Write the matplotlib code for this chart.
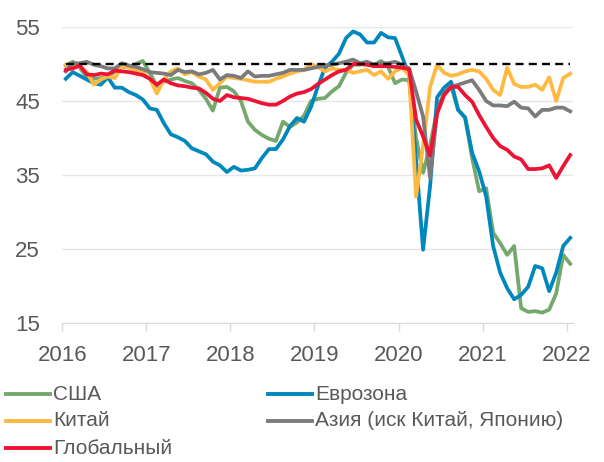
import numpy as np
import matplotlib
matplotlib.use("Agg")
import matplotlib.pyplot as plt
from matplotlib.lines import Line2D
from matplotlib import font_manager

plt.rcParams['font.family'] = ['Liberation Sans', 'DejaVu Sans']

# monthly values, Jan 2016 .. Jan 2022
usa = [49.8, 50.3, 49.5, 48.2, 48.0, 48.1, 48.2, 49.0, 49.6, 49.6,
       50.0, 50.4, 48.8, 47.0, 47.6, 47.9, 48.1, 47.7, 47.4, 46.5,
       45.3, 43.7, 46.8, 46.9, 46.3, 45.0, 42.2, 41.1, 40.4, 39.9,
       39.6, 42.2, 41.5, 42.1, 43.0, 45.0, 45.3, 45.4, 46.3, 47.0,
       48.8, 49.9, 49.9, 50.1, 49.9, 50.4, 49.6, 47.4, 47.9, 47.8,
       40.0, 35.3, 39.0, 43.8, 46.1, 47.0, 43.8, 42.7, 37.3, 32.8,
       33.2, 27.2, 25.8, 24.2, 25.4, 17.0, 16.5, 16.6, 16.4, 16.8,
       19.0, 24.2, 23.0]
eurozone = [48.0, 48.9, 48.4, 47.9, 47.4, 47.2, 48.2, 46.8, 46.8, 46.2,
            45.8, 45.2, 44.0, 43.8, 42.0, 40.5, 40.1, 39.6, 38.6, 38.2,
            37.8, 36.8, 36.3, 35.4, 36.1, 35.6, 35.7, 35.9, 37.3, 38.5,
            38.5, 39.8, 41.6, 42.7, 42.2, 44.2, 47.0, 49.5, 50.3, 51.4,
            53.5, 54.4, 54.0, 52.9, 52.9, 54.2, 53.6, 53.5, 51.0, 48.5,
            37.0, 24.9, 33.5, 45.5, 46.8, 47.6, 43.8, 42.8, 38.0, 35.5,
            32.1, 25.4, 21.8, 19.7, 18.2, 18.8, 19.9, 22.7, 22.4, 19.3,
            21.8, 25.4, 26.5]
china = [49.9, 49.5, 49.7, 48.9, 47.2, 47.9, 48.3, 48.1, 49.7, 49.5,
         49.1, 48.8, 48.0, 46.0, 47.9, 49.0, 49.4, 48.6, 48.9, 48.3,
         47.9, 46.5, 47.4, 48.3, 48.1, 48.0, 47.8, 47.6, 47.6, 47.6,
         48.0, 48.3, 48.7, 49.0, 49.2, 50.0, 49.6, 49.0, 49.4, 49.2,
         49.2, 48.8, 49.0, 49.2, 48.5, 49.0, 48.0, 49.0, 49.5, 48.5,
         32.1, 39.0, 46.9, 49.9, 48.8, 48.4, 48.6, 49.0, 49.2, 49.0,
         48.0, 46.5, 45.8, 49.5, 47.3, 46.9, 46.9, 47.2, 46.5, 48.2,
         45.0, 48.1, 48.7]
asia = [49.0, 50.1, 50.1, 50.3, 49.9, 49.7, 49.4, 49.4, 50.1, 49.8,
        49.6, 49.3, 48.9, 48.8, 48.7, 48.5, 49.2, 48.9, 49.0, 48.6,
        48.8, 49.2, 47.9, 48.5, 48.4, 48.1, 49.0, 48.3, 48.4, 48.4,
        48.6, 48.8, 49.2, 49.2, 49.2, 49.4, 49.6, 49.8, 49.9, 50.1,
        50.3, 50.6, 50.1, 50.3, 49.9, 50.1, 50.1, 50.3, 49.9, 49.4,
        46.3, 42.9, 34.6, 43.5, 46.0, 46.9, 47.2, 47.5, 47.8, 46.5,
        45.0, 44.4, 44.4, 44.3, 44.9, 44.1, 44.0, 42.9, 43.8, 43.8,
        44.1, 44.1, 43.6]
global_ = [49.2, 49.4, 49.8, 48.6, 48.5, 48.7, 48.6, 49.1, 49.0, 48.9,
           48.7, 48.5, 48.0, 47.2, 47.9, 47.4, 47.1, 47.0, 46.8, 46.7,
           46.1, 45.3, 45.0, 45.8, 45.5, 45.4, 45.3, 45.0, 44.7, 44.5,
           44.5, 45.0, 45.6, 46.0, 46.2, 46.6, 47.3, 47.9, 48.5, 49.0,
           49.2, 50.0, 50.0, 49.9, 49.7, 49.7, 49.7, 49.6, 49.5, 49.3,
           42.5, 40.2, 37.6, 43.3, 45.8, 46.9, 46.9, 45.8, 44.9, 43.1,
           41.5, 40.0, 38.9, 38.4, 37.5, 37.1, 35.8, 35.8, 35.9, 36.3,
           34.6, 36.2, 37.7]
threshold = 50

years = ['2016', '2017', '2018', '2019', '2020', '2021', '2022']
labels = ['США', 'Еврозона', 'Китай', 'Азия (иск Китай, Японию)', 'Глобальный']
colors = ['#74A86C', '#0088BC', '#FFB941', '#7B7B7B', '#EC1334']
series = [usa, eurozone, china, asia, global_]

months = np.arange(len(usa)) + 0.5

# excel squeezes the long legend entry; use a narrow face if there is one
try:
    font_manager.findfont('Liberation Sans Narrow', fallback_to_default=False)
    narrow = ['Liberation Sans Narrow', 'DejaVu Sans']
except ValueError:
    narrow = ['Liberation Sans', 'DejaVu Sans']

fig = plt.figure(figsize=(6.04, 4.62), dpi=100)
ax = fig.add_axes([0.1031, 0.3009, 0.8456, 0.6407])

for vals, col in zip(series, colors):
    ax.plot(months, vals, color=col, lw=2.7)
ax.plot(months, [threshold] * len(months), color='black', lw=1.7,
        dashes=(3.4, 2.2), zorder=5)

ax.set_xlim(0, 72.9)
ax.set_ylim(15, 55)
ax.set_yticks([15, 25, 35, 45, 55])
ax.set_xticks(np.arange(len(years)) * 12)
ax.set_xticklabels(years)
ax.yaxis.grid(True, color='#E6E6E6', lw=1)
ax.set_axisbelow(True)
for s in ['top', 'right', 'left']:
    ax.spines[s].set_visible(False)
ax.spines['bottom'].set_color('#D9D9D9')
ax.tick_params(axis='y', length=0, pad=16, labelsize=16, labelcolor='#595959')
ax.tick_params(axis='x', length=6, width=1, color='#D9D9D9', pad=10,
               labelsize=16, labelcolor='#595959')

# legend, two columns filled row by row
W, H = 604, 462
slots = [(6, 394), (268, 394), (6, 421), (268, 421), (6, 448)]
for i, ((x0, y0), lab, col) in enumerate(zip(slots, labels, colors)):
    fig.add_artist(Line2D([x0 / W, (x0 + 44) / W], [1 - y0 / H, 1 - y0 / H],
                          color=col, lw=2.8, transform=fig.transFigure))
    fam = narrow if i == 3 else ['Liberation Sans', 'DejaVu Sans']
    fig.text((x0 + 47) / W, 1 - y0 / H, lab, fontsize=15, color='#595959',
             va='center', ha='left', family=fam)

fig.savefig('out.png', dpi=100)
